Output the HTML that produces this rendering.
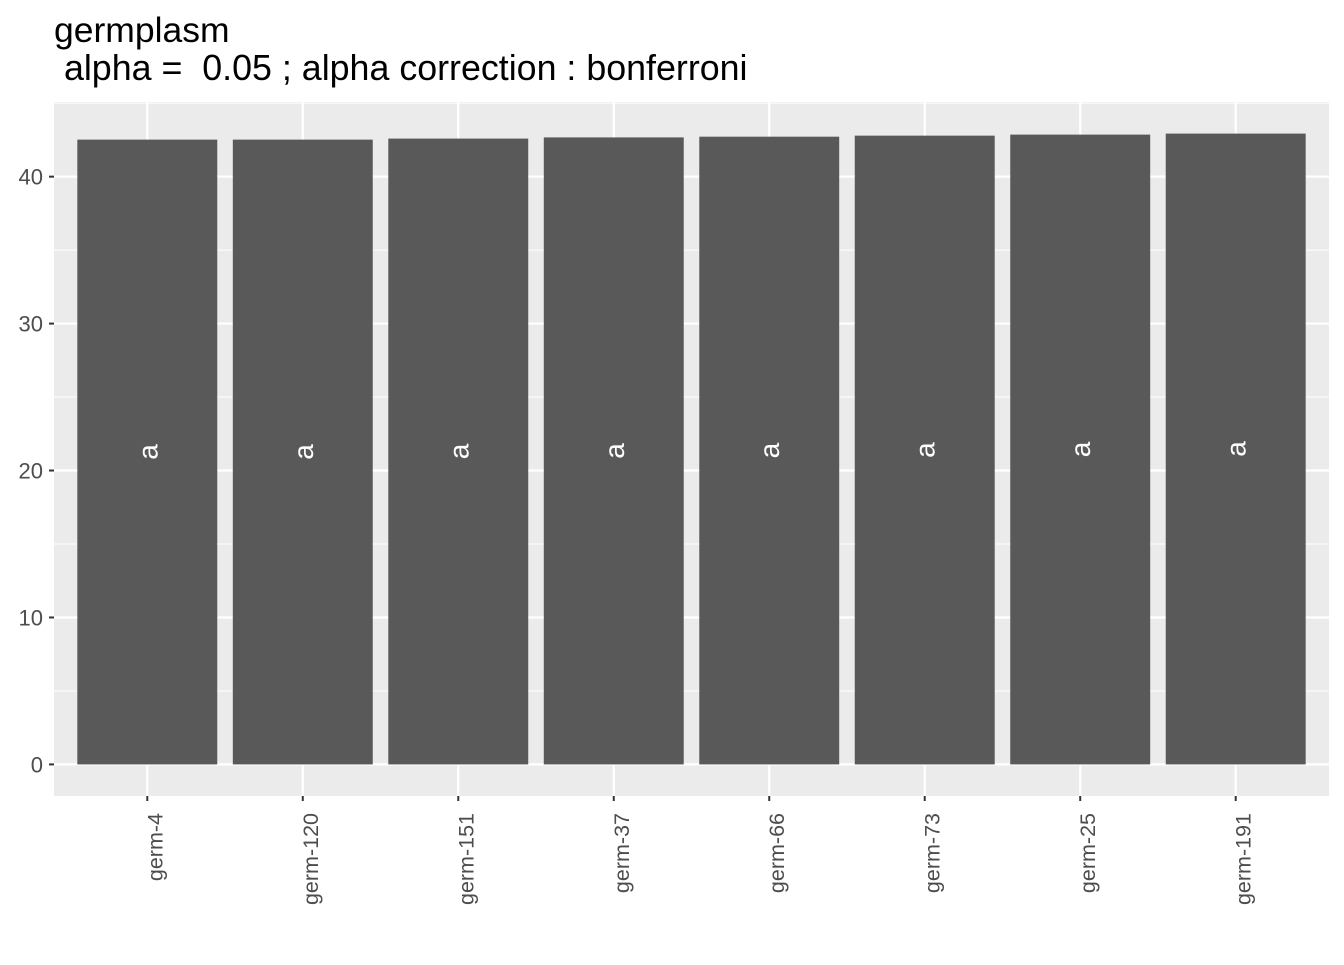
<!DOCTYPE html>
<html><head><meta charset="utf-8"><style>
body{margin:0;background:#fff;font-family:"Liberation Sans",sans-serif}
</style></head><body>
<svg id="c" width="1344" height="960" xmlns="http://www.w3.org/2000/svg">
<text x="54" y="42" font-size="35.5" fill="#000">germplasm</text>
<text x="54" y="80" font-size="35.8" fill="#000" xml:space="preserve"> alpha =  0.05 ; alpha correction : bonferroni</text>
<rect x="54" y="102" width="1275" height="694" fill="#ebebeb"/>
<g id="g"></g>
</svg>
<script>
const categories=["germ-4","germ-120","germ-151","germ-37","germ-66","germ-73","germ-25","germ-191"];
const values=[42.52,42.52,42.59,42.67,42.72,42.79,42.86,42.93];
const groups=["a","a","a","a","a","a","a","a"];
const yTicks=[0,10,20,30,40];
const NS="http://www.w3.org/2000/svg";
const g=document.getElementById('g');
const L=54,R=1329,T=102,B=796;
const ymin=-2.15,ymax=45.08;
const y=v=>B-(v-ymin)/(ymax-ymin)*(B-T);
const step=(R-L)/(categories.length+0.2);
const x=i=>L+step*(0.6+i);
const bw=step*0.9;
function el(t,a,txt){const e=document.createElementNS(NS,t);for(const k in a)e.setAttribute(k,a[k]);if(txt!==undefined)e.textContent=txt;g.appendChild(e);return e;}
yTicks.forEach((v,i)=>{
 const m=v+5;if(y(m)>T){const l=el('line',{x1:L,x2:R,y1:y(m),y2:y(m),stroke:'#fff','stroke-width':1});}
 const l=el('line',{x1:L,x2:R,y1:y(v),y2:y(v),stroke:'#fff','stroke-width':2.2});
 
 const tk=el('line',{x1:L-5,x2:L,y1:y(v),y2:y(v),stroke:'#333','stroke-width':2});
 
 const t=el('text',{x:L-11,y:y(v)+8,'font-size':22,fill:'#4d4d4d','text-anchor':'end'},v);
 
});
categories.forEach((c,i)=>{
 const l=el('line',{x1:x(i),x2:x(i),y1:T,y2:B,stroke:'#fff','stroke-width':2.2});
 
});
categories.forEach((c,i)=>{
 const r=el('rect',{x:x(i)-bw/2,y:y(values[i]),width:bw,height:y(0)-y(values[i]),fill:'#595959'});
 
 const ly=y(values[i]/2);
 const t=el('text',{x:x(i)+10,y:ly,'font-size':28,fill:'#fff','text-anchor':'middle',transform:`rotate(-90 ${x(i)+10} ${ly})`},groups[i]);
 
 const tk=el('line',{x1:x(i),x2:x(i),y1:B,y2:B+5,stroke:'#333','stroke-width':2});
 
 const tx=x(i)+15,ty=B+17;
 const xl=el('text',{x:tx,y:ty,'font-size':21.5,fill:'#4d4d4d','text-anchor':'end',transform:`rotate(-90 ${tx} ${ty})`},c);
 
});
</script>
</body></html>
